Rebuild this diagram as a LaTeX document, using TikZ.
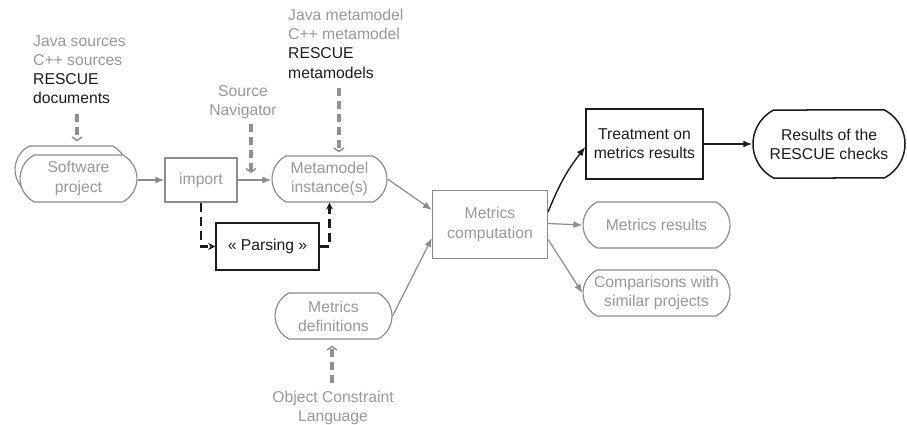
\documentclass[tikz,border=0pt]{standalone}
\usepackage{fontspec}
\setmainfont{Liberation Sans}
\usetikzlibrary{arrows.meta,shapes.misc,calc}
\definecolor{txtgray}{RGB}{152,152,152}
\definecolor{linegray}{RGB}{140,140,140}
\definecolor{dashgray}{RGB}{145,145,145}
\definecolor{ink}{RGB}{28,28,28}

\begin{document}
\begin{tikzpicture}[x=1pt,y=-1pt,
  font=\fontsize{15.7}{19.2}\selectfont,
  every node/.style={inner sep=0pt, align=center},
  pill/.style={rounded rectangle, rounded rectangle arc length=125,
    draw=linegray, line width=1.2pt, text=txtgray, fill=white},
  gbox/.style={rectangle, draw=linegray, line width=1.2pt, text=txtgray},
  bbox/.style={rectangle, draw=ink, line width=1.5pt, text=ink},
  bpill/.style={rounded rectangle, rounded rectangle arc length=125,
    draw=ink, line width=1.5pt, text=ink},
  flow/.style={draw=linegray, line width=1.2pt, -{Latex[length=9pt,width=7pt]}},
  bflow/.style={draw=ink, line width=1.4pt, -{Latex[length=9pt,width=7pt]}},
  feed/.style={draw=dashgray, line width=3.6pt, dash pattern=on 8pt off 5pt,
    -{Straight Barb[length=3.5pt,width=10pt,line width'=1.5pt]}},
  parse/.style={draw=ink, line width=2.8pt, dash pattern=on 9pt off 5pt,
    -{Stealth[length=7pt,width=7pt]}},
  note/.style={text=txtgray},
]
\useasboundingbox (0,0) rectangle (907,425);

% --- process chain ---
\node[pill, minimum width=112pt, minimum height=47pt] (swback) at (71,169.5) {};
\node[pill, minimum width=117pt, minimum height=47pt] (sw) at (78.5,178.5) {Software\\project};
\node[gbox, minimum width=72pt, minimum height=44pt] (imp) at (201,180) {import};
\node[pill, minimum width=115pt, minimum height=46pt] (meta) at (329.5,179) {Metamodel\\instance(s)};
\node[bbox, minimum width=103pt, minimum height=47pt] (parse) at (267.5,246.5) {« Parsing »};
\node[gbox, minimum width=115pt, minimum height=68pt] (comp) at (490,224.5) {Metrics\\computation};
\node[pill, minimum width=117pt, minimum height=46pt] (defs) at (333.5,316) {Metrics\\definitions};
\node[bbox, minimum width=117pt, minimum height=70pt] (treat) at (644.5,144) {Treatment on\\metrics results};
\node[bpill, minimum width=152pt, minimum height=68pt] (checks) at (829,144) {Results of the\\RESCUE checks};
\node[pill, minimum width=147pt, minimum height=46pt] (mres) at (656.5,225) {Metrics results};
\node[pill, minimum width=147pt, minimum height=46pt] (cmp) at (656.5,293) {Comparisons with\\similar projects};

% --- inputs ---
\node[note, align=left, anchor=north west] (jsrc) at (33,35)
  {Java sources\\C++ sources\\\textcolor{ink}{RESCUE}\\\textcolor{ink}{documents}};
\node[note, align=left, anchor=north west] (mm) at (288,9)
  {Java metamodel\\C++ metamodel\\\textcolor{ink}{RESCUE}\\\textcolor{ink}{metamodels}};
\node[note, anchor=north] (snav) at (243,85) {Source\\Navigator};
\node[note, anchor=north] (ocl) at (333,390.5) {Object Constraint\\Language};

\draw[feed, shorten <=10pt, shorten >=4pt] (jsrc.south -| 77,0) -- (swback.north -| 77,0);
\draw[feed, shorten <=5pt] (snav.south -| 251,0) -- (251,173);
\draw[feed, shorten <=9pt, shorten >=3pt] (mm.south -| 339,0) -- (meta.north -| 339,0);
\draw[feed, shorten <=8pt, shorten >=6pt] (ocl.north -| 332,0) -- (defs.south -| 332,0);

% --- parsing detour ---
\draw[parse] (imp.south) |- (parse.west);
\draw[parse] (parse.east) -| (meta.south);

% --- flows ---
\draw[flow] (imp.west -| sw.east) -- (imp.west);
\draw[flow] (imp.east) -- (imp.east -| meta.west);
\draw[flow] (meta.east) -- ([yshift=14.5pt]comp.west);
\draw[flow] (defs.east) -- ([yshift=-13.5pt]comp.west);
\draw[bflow] ([yshift=12.5pt]comp.east) to[bend left=8] ([yshift=-3pt]treat.west);
\draw[flow] ([yshift=1pt]comp.east) -- (mres.west);
\draw[flow] ([yshift=-15pt]comp.east) -- (cmp.west);
\draw[bflow] (treat.east) -- (checks.west);
\end{tikzpicture}
\end{document}
